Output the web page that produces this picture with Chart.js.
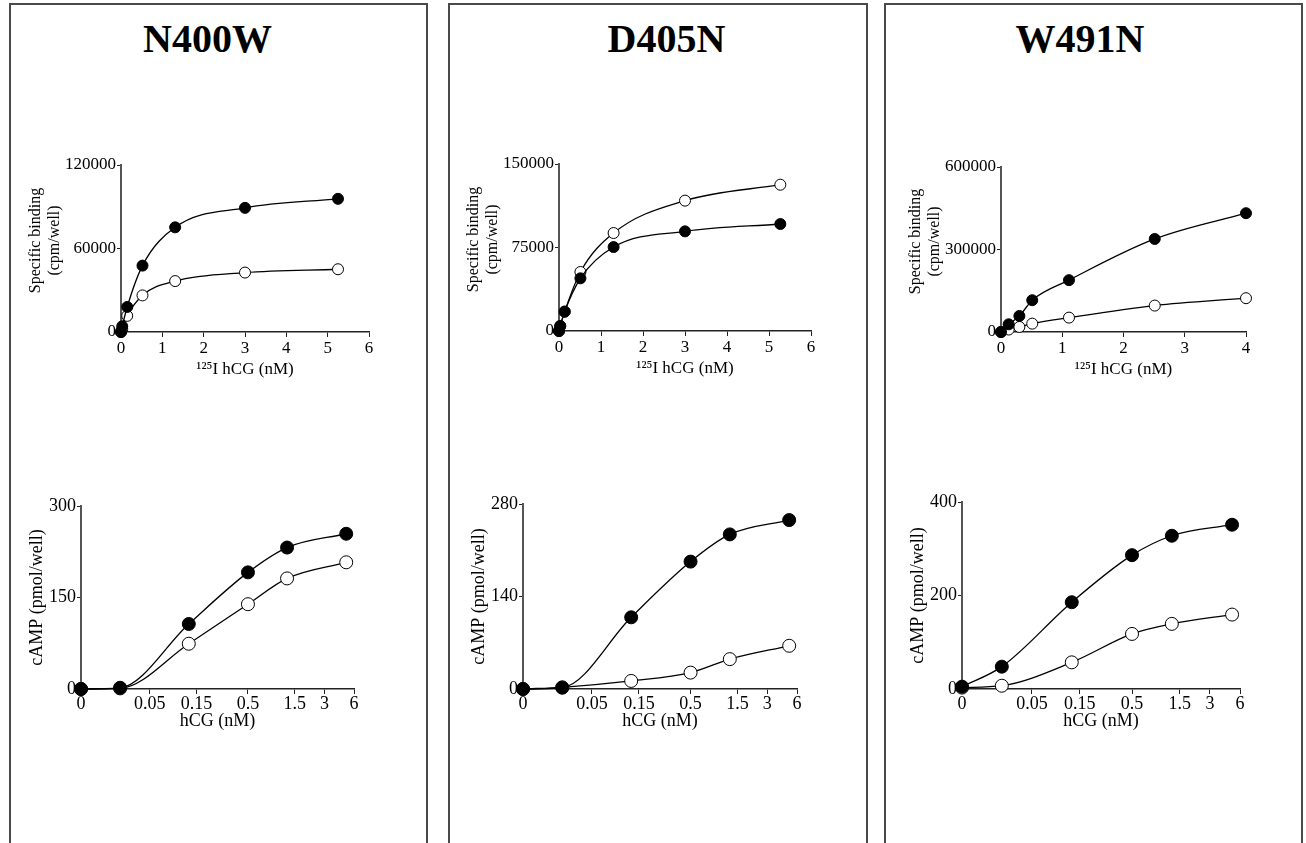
<!DOCTYPE html>
<html><head><meta charset="utf-8">
<script src="https://cdn.jsdelivr.net/npm/chart.js@4.4.0/dist/chart.umd.min.js"></script>
<style>
html,body{margin:0;padding:0;background:#fff;width:1306px;height:843px;overflow:hidden;position:relative;font-family:'Liberation Serif','Times New Roman',serif;}
.panel{position:absolute;top:3px;height:900px;border:2px solid #4a4a4a;border-bottom:none;box-sizing:border-box;}
.ttl{position:absolute;font-weight:bold;font-size:40px;line-height:40px;white-space:nowrap;transform:translateX(-50%);top:19px;color:#000;}
canvas{position:absolute;}
</style></head><body>
<script>
// ---------- DATA ----------
const PANEL_TITLES = ['N400W', 'D405N', 'W491N'];

// Binding (top row): 125I hCG (nM) vs specific binding (cpm/well)
const N400W_BIND_X      = [0, 0.03, 0.15, 0.52, 1.31, 3.0, 5.25];
const N400W_BIND_FILLED = [0, 4100, 18000, 47700, 75200, 89200, 95700];
const N400W_BIND_OPEN   = [0, 2000, 11600, 26300, 36600, 42700, 45100];

const D405N_BIND_X      = [0, 0.03, 0.135, 0.51, 1.30, 3.0, 5.27];
const D405N_BIND_FILLED = [0, 4500, 17400, 47300, 75400, 89500, 96100];
const D405N_BIND_OPEN   = [0, 4500, 17400, 53000, 88000, 117100, 131400];

const W491N_BIND_X      = [0, 0.125, 0.30, 0.51, 1.11, 2.51, 4.0];
const W491N_BIND_FILLED = [0, 28000, 58400, 115600, 188600, 338300, 432000];
const W491N_BIND_OPEN   = [0, 9000, 18300, 30400, 52300, 96100, 122900];

const BIND_Y_MAX  = [120000, 150000, 600000];
const BIND_Y_STEP = [60000, 75000, 300000];
const BIND_X_MAX  = [6, 6, 4];

// cAMP (bottom row): hCG (nM) vs cAMP (pmol/well)
const CAMP_DOSES = [0, 0.025, 0.125, 0.5, 1.25, 5];
const N400W_CAMP_FILLED = [0, 2, 106.6, 191.2, 231.9, 254.5];
const N400W_CAMP_OPEN   = [0, 1, 74.2, 139, 181.3, 207.7];
const D405N_CAMP_FILLED = [0, 2, 108.5, 192.8, 234, 255.7];
const D405N_CAMP_OPEN   = [0, 2.5, 12.2, 24.8, 45.2, 65.4];
const W491N_CAMP_FILLED = [5, 47.8, 185.6, 286.3, 327.8, 351.4];
const W491N_CAMP_OPEN   = [3, 7, 57, 117.8, 139.3, 159.2];

const CAMP_Y_MAX  = [300, 280, 400];
const CAMP_Y_STEP = [150, 140, 200];
const CAMP_TICK_VALUES = [0, 0.05, 0.15, 0.5, 1.5, 3, 6];
const CAMP_TICK_LABELS = ['0', '0.05', '0.15', '0.5', '1.5', '3', '6'];
const LOG_ZERO = 0.01;   // position of the "0" dose on the log axis
const CAMP_X_MAX = 6;

// ---------- LAYOUT ----------
const PANEL_BOXES = [[9, 428], [448, 868], [884, 1303]];
const TITLE_CENTERS = [207.5, 666.5, 1080];
const TOP_AREAS = [
  {l: 121, r: 369, t: 165, b: 331.5},
  {l: 559, r: 811, t: 164, b: 331},
  {l: 1001, r: 1246, t: 167, b: 331.5}
];
const BOT_AREAS = [
  {l: 81, r: 354, t: 505.5, b: 688},
  {l: 523, r: 797, t: 504, b: 689},
  {l: 962, r: 1240, t: 501.5, b: 688}
];
const FONT = "'Liberation Serif', 'Times New Roman', serif";

PANEL_BOXES.forEach((p, i) => {
  const d = document.createElement('div');
  d.className = 'panel';
  d.style.left = p[0] + 'px';
  d.style.width = (p[1] - p[0]) + 'px';
  document.body.appendChild(d);
  const t = document.createElement('div');
  t.className = 'ttl';
  t.style.left = TITLE_CENTERS[i] + 'px';
  t.textContent = PANEL_TITLES[i];
  document.body.appendChild(t);
});

function pts(xs, ys) { return xs.map((x, i) => ({x: x, y: ys[i]})); }
function logPts(xs, ys) { return xs.map((x, i) => ({x: x === 0 ? LOG_ZERO : x, y: ys[i]})); }

function ds(data, filled, r) {
  return {
    data: data,
    borderColor: '#000', borderWidth: 1.3,
    pointRadius: r, pointHoverRadius: r,
    pointBackgroundColor: filled ? '#000' : '#fff',
    pointBorderColor: '#000', pointBorderWidth: 1,
    cubicInterpolationMode: 'monotone', fill: false, clip: false
  };
}

function makeChart(area, geo, datasets, xScale, yScale) {
  const left = area.l - geo.yw, top = area.t - geo.pt;
  const w = Math.round(area.r + geo.pr - left), h = Math.round(area.b + geo.xh - top);
  const c = document.createElement('canvas');
  c.width = w; c.height = h;
  c.style.left = left + 'px'; c.style.top = top + 'px';
  c.style.width = w + 'px'; c.style.height = h + 'px';
  document.body.appendChild(c);
  xScale.afterFit = s => { s.height = geo.xh; };
  yScale.afterFit = s => { s.width = geo.yw; };
  new Chart(c, {
    type: 'line',
    data: {datasets: datasets},
    options: {
      responsive: false, animation: false, devicePixelRatio: 1,
      layout: {padding: {top: geo.pt, right: geo.pr, left: 0, bottom: 0}},
      plugins: {legend: {display: false}, tooltip: {enabled: false}},
      scales: {x: xScale, y: yScale}
    }
  });
}

function axisCommon(tickSize, borderW, borderC) {
  return {
    grid: {display: true, drawOnChartArea: false, drawTicks: true, tickLength: 4, color: '#222', lineWidth: 1},
    border: {display: true, color: borderC, width: borderW},
    ticks: {font: {family: FONT, size: tickSize}, color: '#000', padding: 1, maxRotation: 0, autoSkip: false}
  };
}

const BIND = [
  [N400W_BIND_X, N400W_BIND_FILLED, N400W_BIND_OPEN],
  [D405N_BIND_X, D405N_BIND_FILLED, D405N_BIND_OPEN],
  [W491N_BIND_X, W491N_BIND_FILLED, W491N_BIND_OPEN]
];
const CAMP = [
  [N400W_CAMP_FILLED, N400W_CAMP_OPEN],
  [D405N_CAMP_FILLED, D405N_CAMP_OPEN],
  [W491N_CAMP_FILLED, W491N_CAMP_OPEN]
];

for (let i = 0; i < 3; i++) {
  // ---- top: binding ----
  const bx = axisCommon(17, 1.5, '#222');
  Object.assign(bx, {
    type: 'linear', min: 0, max: BIND_X_MAX[i],
    title: {display: true, text: '\u00B9\u00B2\u2075I hCG (nM)', color: '#000',
            font: {family: FONT, size: 17}, padding: {top: 0, bottom: 2}}
  });
  bx.ticks.stepSize = 1;
  bx.ticks.padding = 1.5;
  bx.grid.tickLength = 5;
  const by = axisCommon(17, 2, '#555');
  Object.assign(by, {
    type: 'linear', min: 0, max: BIND_Y_MAX[i],
    title: {display: true, text: ['    Specific binding', '    (cpm/well)'], color: '#000',
            font: {family: FONT, size: 16}, padding: {top: 15, bottom: 0}}
  });
  by.ticks.stepSize = BIND_Y_STEP[i];
  by.ticks.callback = v => String(v);
  const b = BIND[i];
  makeChart(TOP_AREAS[i], {yw: 110, pt: 12, pr: 15, xh: 50},
    [ds(pts(b[0], b[1]), true, 5.5), ds(pts(b[0], b[2]), false, 5.5)], bx, by);

  // ---- bottom: cAMP ----
  const cx = axisCommon(18, 1.5, '#222');
  Object.assign(cx, {
    type: 'logarithmic', min: LOG_ZERO, max: CAMP_X_MAX,
    afterBuildTicks: s => { s.ticks = CAMP_TICK_VALUES.map(v => ({value: v === 0 ? LOG_ZERO : v})); },
    title: {display: true, text: 'hCG (nM)', color: '#000',
            font: {family: FONT, size: 18}, padding: {top: 0, bottom: 7}}
  });
  cx.ticks.callback = (v, idx) => CAMP_TICK_LABELS[idx];
  cx.ticks.padding = -1;
  cx.grid.tickLength = 5;
  const cy = axisCommon(18, 2, '#555');
  Object.assign(cy, {
    type: 'linear', min: 0, max: CAMP_Y_MAX[i],
    title: {display: true, text: 'cAMP (pmol/well)', color: '#000',
            font: {family: FONT, size: 18}, padding: {top: 20, bottom: 0}}
  });
  cy.ticks.stepSize = CAMP_Y_STEP[i];
  cy.ticks.callback = v => String(v);
  const c = CAMP[i];
  makeChart(BOT_AREAS[i], {yw: 75, pt: 14, pr: 16, xh: 50},
    [ds(logPts(CAMP_DOSES, c[0]), true, 6.5), ds(logPts(CAMP_DOSES, c[1]), false, 6.5)], cx, cy);
}
</script>
</body></html>
